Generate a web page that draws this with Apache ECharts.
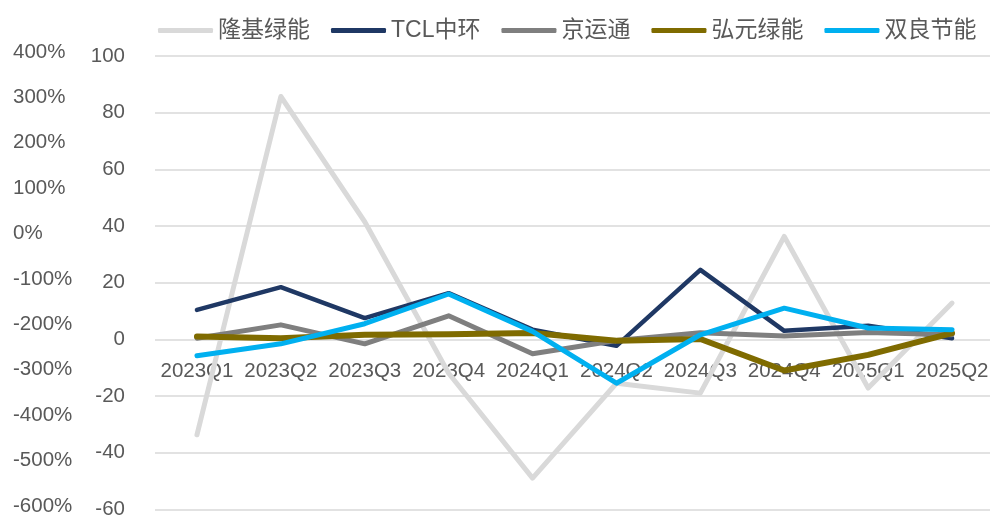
<!DOCTYPE html>
<html>
<head>
<meta charset="utf-8">
<script src="https://cdn.jsdelivr.net/npm/echarts@6/dist/echarts.min.js"></script>
<style>
  html, body { margin: 0; padding: 0; background: #fff; }
  #main { width: 990px; height: 516px; }
</style>
</head>
<body>
<div id="main"></div>
<script>
// 季度
var quarters = ['2023Q1', '2023Q2', '2023Q3', '2023Q4', '2024Q1', '2024Q2', '2024Q3', '2024Q4', '2025Q1', '2025Q2'];

// 各公司数据（左侧内轴）
var longi   = [-33.7, 85.7, 41.5, -12, -49, -15.5, -19, 36.3, -17.2, 12.8];
var tcl     = [10.4, 18.4, 7.5, 16.3, 3.4, -2.3, 24.5, 3.0, 4.8, 0.4];
var jyt     = [0.4, 5.1, -1.6, 8.3, -5.1, -0.4, 2.3, 1.2, 2.4, 1.6];
var hongyuan = [1.0, 0.4, 1.6, 1.8, 2.2, -0.5, 0.1, -11.0, -5.5, 2.2];
var shuangliang = [-5.8, -1.6, 5.5, 16.0, 2.8, -15.5, 1.6, 11.0, 4.0, 3.4];

var names = ['隆基绿能', 'TCL中环', '京运通', '弘元绿能', '双良节能'];
var colors = ['#d9d9d9', '#1f3864', '#7f7f7f', '#7f6b00', '#00b0f0'];
var widths = [5, 4.5, 5, 6, 5];
var dataList = [longi, tcl, jyt, hongyuan, shuangliang];

var fontFamily = '"Liberation Sans", "Noto Sans CJK SC", sans-serif';
var textColor = '#595959';

var chart = echarts.init(document.getElementById('main'));

var series = [];
for (var i = 0; i < names.length; i++) {
    series.push({
        name: names[i],
        type: 'line',
        xAxisIndex: 0,
        yAxisIndex: 0,
        z: 5,
        data: dataList[i],
        symbol: 'none',
        lineStyle: { color: colors[i], width: widths[i], cap: 'round', join: 'round' },
        itemStyle: { color: colors[i] }
    });
}

var option = {
    animation: false,
    backgroundColor: '#fff',
    textStyle: { fontFamily: fontFamily },
    legend: {
        data: names,
        left: 153,
        top: 14,
        icon: 'roundRect',
        itemWidth: 55,
        itemHeight: 5,
        itemGap: 21,
        textStyle: { color: textColor, fontSize: 23, fontFamily: fontFamily }
    },
    grid: [
        // 主绘图区
        { left: 155, top: 56, width: 839, height: 453.3, outerBoundsMode: 'none', containLabel: false },
        // 外侧百分比轴
        { left: 13, top: 52, width: 10, height: 454, outerBoundsMode: 'none', containLabel: false },
        // 横轴标签放在0刻度处
        { left: 155, top: 56, width: 839, height: 283.5, outerBoundsMode: 'none', containLabel: false }
    ],
    xAxis: [
        {
            type: 'category',
            gridIndex: 0,
            data: quarters,
            axisLine: { show: false },
            axisTick: { show: false },
            axisLabel: { show: false }
        },
        { type: 'value', gridIndex: 1, show: false },
        {
            type: 'category',
            gridIndex: 2,
            z: 0,
            data: quarters,
            axisLine: { show: false, onZero: false },
            axisTick: { show: false },
            axisLabel: { interval: 0, color: textColor, fontSize: 20.5, margin: 22, fontFamily: fontFamily }
        }
    ],
    yAxis: [
        {
            type: 'value',
            gridIndex: 0,
            min: -60,
            max: 100,
            interval: 20,
            axisLine: { show: false },
            axisTick: { show: false },
            axisLabel: { color: textColor, fontSize: 20.5, margin: 30, fontFamily: fontFamily },
            splitLine: { lineStyle: { color: '#d9d9d9', width: 1.5 } }
        },
        {
            type: 'value',
            gridIndex: 1,
            min: -600,
            max: 400,
            interval: 100,
            axisLine: { show: false },
            axisTick: { show: false },
            splitLine: { show: false },
            axisLabel: { formatter: '{value}%', align: 'left', margin: 0, color: textColor, fontSize: 20.5, fontFamily: fontFamily }
        },
        { type: 'value', gridIndex: 2, min: 0, max: 1, show: false }
    ],
    series: series
};

chart.setOption(option);
</script>
</body>
</html>
